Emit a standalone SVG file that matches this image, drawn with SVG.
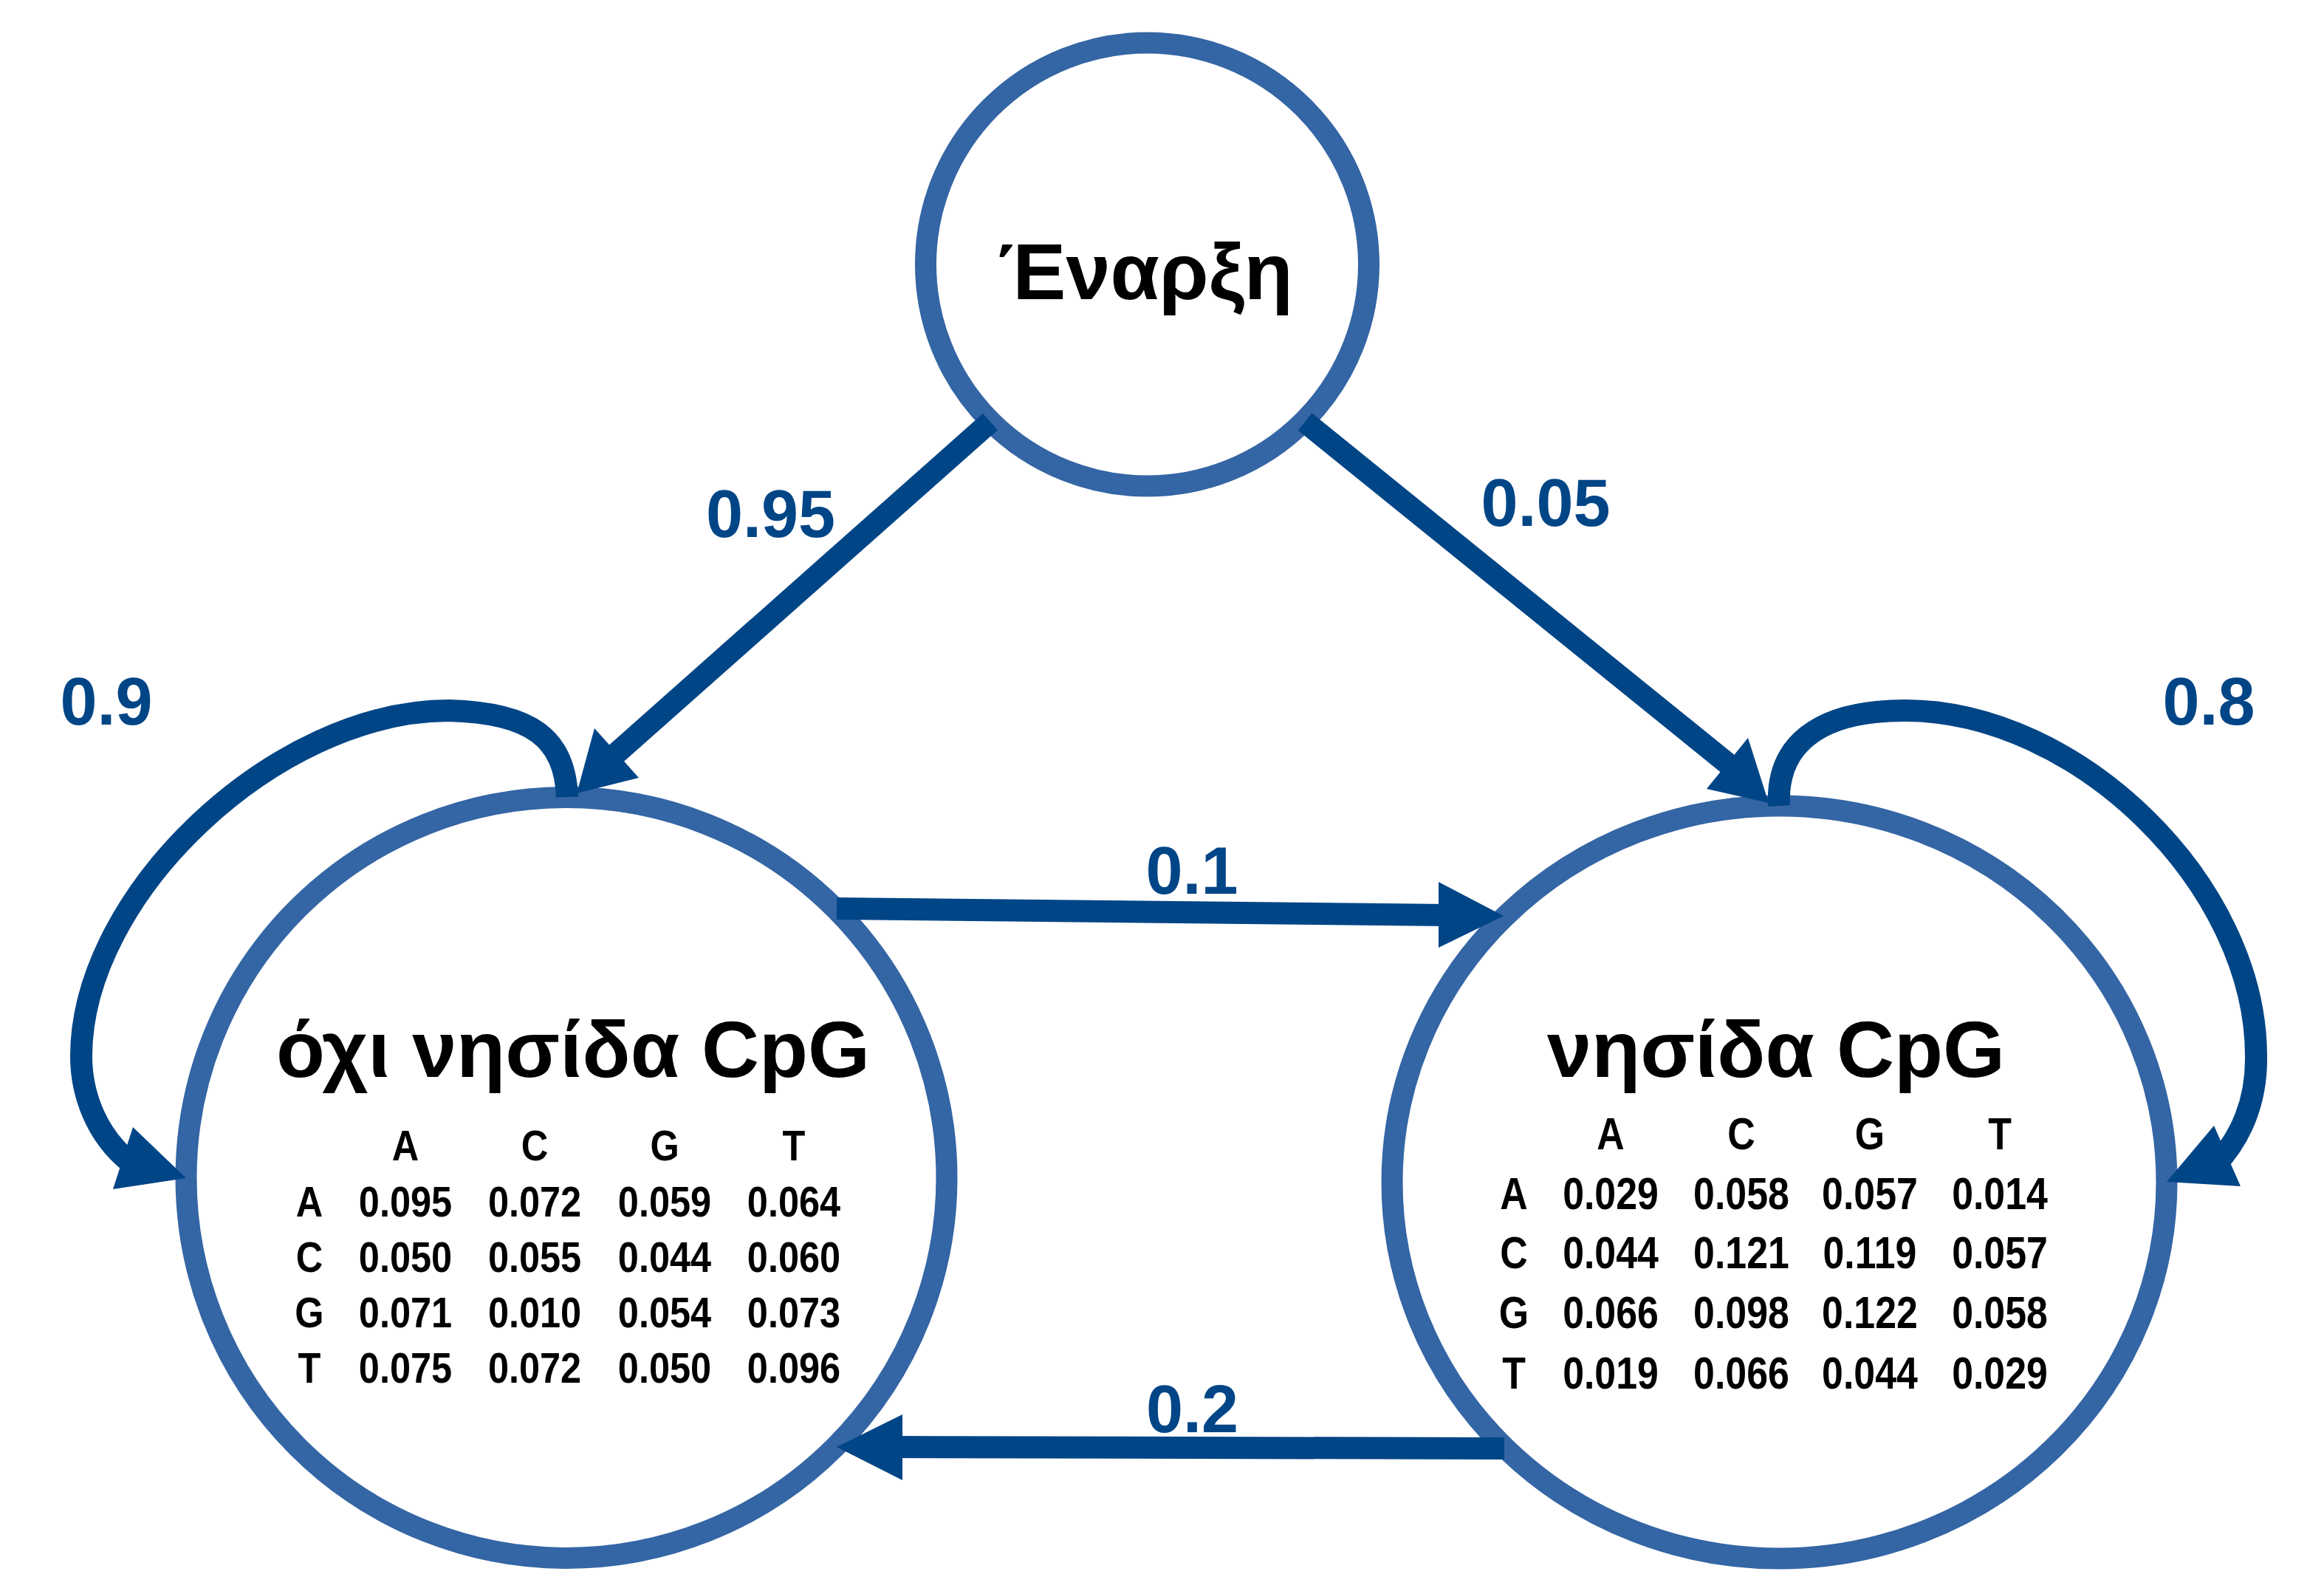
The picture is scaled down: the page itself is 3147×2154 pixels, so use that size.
<svg xmlns="http://www.w3.org/2000/svg" width="3147" height="2154" viewBox="0 0 3147 2154">
  <style>
    .node { fill: #ffffff; stroke: #3465a4; stroke-width: 29; }
    .title { font-family: "Liberation Sans", Arial, sans-serif; font-weight: bold; font-size: 108px; fill: #000000; text-anchor: middle; }
    .tbl { font-family: "Liberation Sans", Arial, sans-serif; font-weight: bold; fill: #000000; text-anchor: middle; }
    .shaft { fill: none; stroke: #004586; stroke-width: 30; stroke-linecap: butt; }
    .head { fill: #004586; stroke: none; }
    .lbl { font-family: "Liberation Sans", Arial, sans-serif; font-weight: bold; font-size: 90px; fill: #004586; text-anchor: middle; }
  </style>
  <rect x="0" y="0" width="3147" height="2154" fill="#ffffff"/>

  <g id="node-start">
    <circle class="node" cx="1553.5" cy="358" r="300"/>
    <text class="title" x="1551" y="405">Έναρξη</text>
  </g>

  <g id="node-non-cpg">
    <circle class="node" cx="767" cy="1594.5" r="515"/>
    <text class="title" x="776" y="1458">όχι νησίδα CpG</text>
    <g transform="matrix(0.87 0 0 1 0 0)" class="tbl" font-size="58">
      <text x="631" y="1571">A</text>
      <text x="832.2" y="1571">C</text>
      <text x="1034.5" y="1571">G</text>
      <text x="1235.6" y="1571">T</text>
      <text x="481.6" y="1647">A</text>
      <text x="631" y="1647">0.095</text>
      <text x="832.2" y="1647">0.072</text>
      <text x="1034.5" y="1647">0.059</text>
      <text x="1235.6" y="1647">0.064</text>
      <text x="481.6" y="1722">C</text>
      <text x="631" y="1722">0.050</text>
      <text x="832.2" y="1722">0.055</text>
      <text x="1034.5" y="1722">0.044</text>
      <text x="1235.6" y="1722">0.060</text>
      <text x="481.6" y="1797">G</text>
      <text x="631" y="1797">0.071</text>
      <text x="832.2" y="1797">0.010</text>
      <text x="1034.5" y="1797">0.054</text>
      <text x="1235.6" y="1797">0.073</text>
      <text x="481.6" y="1872">T</text>
      <text x="631" y="1872">0.075</text>
      <text x="832.2" y="1872">0.072</text>
      <text x="1034.5" y="1872">0.050</text>
      <text x="1235.6" y="1872">0.096</text>
    </g>
  </g>

  <g id="node-cpg">
    <ellipse class="node" cx="2409.5" cy="1600.5" rx="524.5" ry="509.5"/>
    <text class="title" x="2405" y="1458">νησίδα CpG</text>
    <g transform="matrix(0.85 0 0 1 0 0)" class="tbl" font-size="61">
      <text x="2565.9" y="1556">A</text>
      <text x="2774.1" y="1556">C</text>
      <text x="2978.8" y="1556">G</text>
      <text x="3185.9" y="1556">T</text>
      <text x="2411.8" y="1637">A</text>
      <text x="2565.9" y="1637">0.029</text>
      <text x="2774.1" y="1637">0.058</text>
      <text x="2978.8" y="1637">0.057</text>
      <text x="3185.9" y="1637">0.014</text>
      <text x="2411.8" y="1717">C</text>
      <text x="2565.9" y="1717">0.044</text>
      <text x="2774.1" y="1717">0.121</text>
      <text x="2978.8" y="1717">0.119</text>
      <text x="3185.9" y="1717">0.057</text>
      <text x="2411.8" y="1798">G</text>
      <text x="2565.9" y="1798">0.066</text>
      <text x="2774.1" y="1798">0.098</text>
      <text x="2978.8" y="1798">0.122</text>
      <text x="3185.9" y="1798">0.058</text>
      <text x="2411.8" y="1880">T</text>
      <text x="2565.9" y="1880">0.019</text>
      <text x="2774.1" y="1880">0.066</text>
      <text x="2978.8" y="1880">0.044</text>
      <text x="3185.9" y="1880">0.029</text>
    </g>
  </g>

  <g id="connectors">
    <!-- start -> non-CpG (0.95) -->
    <path class="shaft" d="M1341,571 L820,1033"/>
    <polygon class="head" points="781,1074 805,986 865,1053"/>
    <!-- start -> CpG (0.05) -->
    <path class="shaft" d="M1767,571 L2352,1044"/>
    <polygon class="head" points="2395,1087 2367,999 2311,1068"/>
    <!-- non-CpG -> CpG (0.1) -->
    <path class="shaft" d="M1133,1230 L1960,1239"/>
    <polygon class="head" points="2036,1240 1948,1194 1948,1283"/>
    <!-- CpG -> non-CpG (0.2) -->
    <path class="shaft" d="M2037,1961 L1210,1959"/>
    <polygon class="head" points="1133,1959 1222,1915 1222,2004"/>
    <!-- non-CpG self loop (0.9) -->
    <path class="shaft" d="M768,1079 C765,1000 720,965 608,962 C374,962 110,1210 110,1430 C110,1480 130,1540 182,1578"/>
    <polygon class="head" points="252,1595 180,1526 153,1610"/>
    <!-- CpG self loop (0.8) -->
    <path class="shaft" d="M2409,1091 C2405,1010 2460,962 2580,962 C2812,962 3055,1196 3055,1430 C3056,1490 3035,1540 3000,1577"/>
    <polygon class="head" points="2934,1600 2998,1524 3034,1606"/>
  </g>

  <g id="edge-labels">
    <text class="lbl" x="1043.5" y="727">0.95</text>
    <text class="lbl" x="2093" y="712">0.05</text>
    <text class="lbl" x="144" y="981">0.9</text>
    <text class="lbl" x="2991" y="981">0.8</text>
    <text class="lbl" x="1614" y="1210">0.1</text>
    <text class="lbl" x="1614.5" y="1939">0.2</text>
  </g>
</svg>
